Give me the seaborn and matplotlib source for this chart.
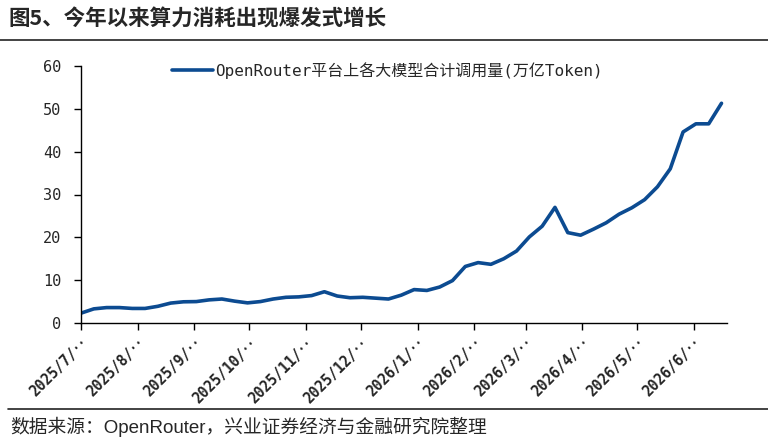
import pandas as pd
import matplotlib
matplotlib.use('Agg')
import matplotlib.pyplot as plt
from matplotlib.lines import Line2D
import seaborn as sns

# weekly usage, 万亿 Token
start_date = '2025-07-14'
usage = [2.3, 3.3, 3.6, 3.6, 3.4, 3.4, 3.9, 4.65, 4.95, 5.0,
         5.4, 5.6, 5.1, 4.7, 5.0, 5.6, 6.0, 6.1, 6.4, 7.3,
         6.3, 5.9, 6.0, 5.8, 5.6, 6.5, 7.8, 7.6, 8.4, 9.9,
         13.2, 14.1, 13.7, 15.0, 16.8, 20.1, 22.6, 27.0, 21.1, 20.5,
         21.9, 23.4, 25.4, 26.9, 28.8, 31.8, 36.0, 44.6, 46.5, 46.5,
         51.3]
series_name = 'OpenRouter平台上各大模型合计调用量(万亿Token)'
title = '图5、今年以来算力消耗出现爆发式增长'
source = '数据来源：OpenRouter，兴业证券经济与金融研究院整理'
y_ticks = [0, 10, 20, 30, 40, 50, 60]

dates = pd.date_range(start_date, periods=len(usage), freq='7D')
df = pd.DataFrame({'date': dates, 'usage': usage})

sns.set_style('white')
plt.rcParams['font.family'] = ['DejaVu Sans Mono', 'Noto Sans CJK SC']

fig = plt.figure(figsize=(7.68, 4.38), dpi=100)
ax = fig.add_axes([81 / 768, 1 - 323 / 438, (727 - 81) / 768, (323 - 66) / 438])

sns.lineplot(data=df, x='date', y='usage', ax=ax, color='#0c4b91',
             linewidth=2.6, label=series_name)

# month ticks on the same day as the first point
month_ticks = [dates[0] + pd.DateOffset(months=i) for i in range(12)]
ax.set_xticks(month_ticks)
ax.set_xticklabels([f'{d.year}/{d.month}/‥' for d in month_ticks],
                   rotation=45, ha='right', rotation_mode='anchor',
                   fontsize=10.5, fontweight='bold')
ax.set_xlim(dates[0], dates[-1] + pd.Timedelta(days=3))

ax.set_ylim(0, 60)
ax.set_yticks(y_ticks)
ax.set_yticklabels([str(v) for v in y_ticks], fontsize=11)

ax.set_xlabel('')
ax.set_ylabel('')
sns.despine(ax=ax)
for s in ['left', 'bottom']:
    ax.spines[s].set_color('black')
    ax.spines[s].set_linewidth(1.0)
ax.tick_params(axis='both', which='both', direction='out', length=5,
               width=1, color='black', left=True, bottom=True)
ax.tick_params(axis='x', pad=4)
ax.tick_params(axis='y', pad=9)

leg = ax.legend(loc='center', bbox_to_anchor=(0.474, 0.984), frameon=False,
                handlelength=2.6, handletextpad=0.1, fontsize=11.5)

fig.text(8 / 768, 1 - 19 / 438, title, fontsize=15.5, fontweight='bold',
         va='center', ha='left', family=['Noto Sans CJK SC'])
fig.add_artist(Line2D([0, 1], [1 - 40 / 438] * 2, color='#222222', lw=1.2))
fig.add_artist(Line2D([8 / 768, 1], [1 - 409 / 438] * 2, color='#222222', lw=1.2))
fig.text(10 / 768, 1 - 427 / 438, source, fontsize=13.5, va='center',
         ha='left', family=['Liberation Sans', 'Noto Sans CJK SC'])

fig.savefig('out.png', dpi=100)
